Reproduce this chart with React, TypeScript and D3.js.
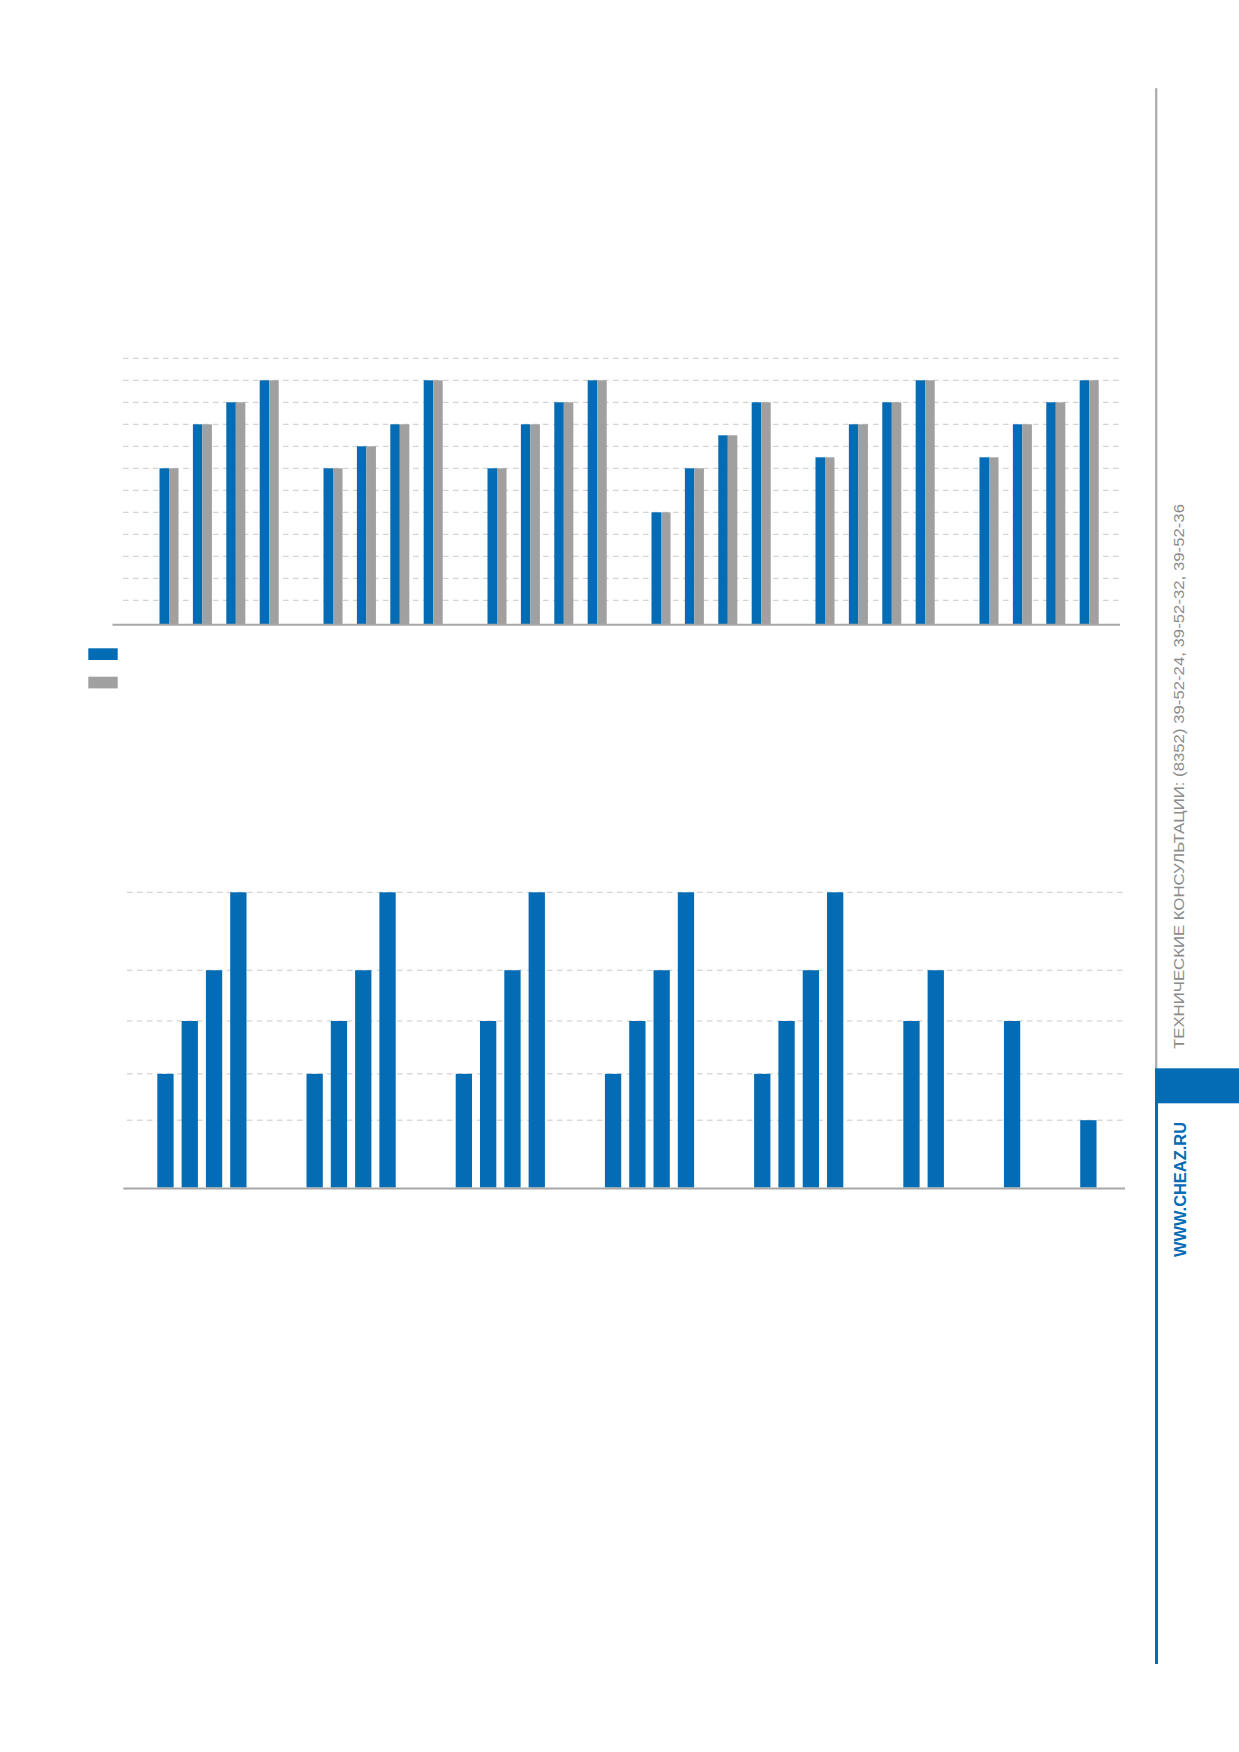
import React from "react";
import * as d3 from "d3";

// upper chart: 6 groups x 4 sizes, two series of equal height
const topGroups = ["1", "2", "3", "4", "5", "6"];
const topSizes = ["a", "b", "c", "d"];
const topSeries = ["blue", "gray"];
const topBlue = [
  [7, 9, 10, 11],
  [7, 8, 9, 11],
  [7, 9, 10, 11],
  [5, 7, 8.5, 10],
  [7.5, 9, 10, 11],
  [7.5, 9, 10, 11],
];
const topGray = [
  [7, 9, 10, 11],
  [7, 8, 9, 11],
  [7, 9, 10, 11],
  [5, 7, 8.5, 10],
  [7.5, 9, 10, 11],
  [7.5, 9, 10, 11],
];
const topTicks = [1, 2, 3, 4, 5, 6, 7, 8, 9, 10, 11, 12];

// lower chart: groups with a varying number of bars
const bottomGroups = ["1", "2", "3", "4", "5", "6", "7", "8"];
const bottomValues = [
  [38.5, 56.4, 73.6, 100],
  [38.5, 56.4, 73.6, 100],
  [38.5, 56.4, 73.6, 100],
  [38.5, 56.4, 73.6, 100],
  [38.5, 56.4, 73.6, 100],
  [56.4, 73.6],
  [56.4],
  [22.8],
];
const bottomTicks = [22.8, 38.5, 56.4, 73.6, 100];

const phoneText = "ТЕХНИЧЕСКИЕ КОНСУЛЬТАЦИИ: (8352) 39-52-24, 39-52-32, 39-52-36";
const siteText = "WWW.CHEAZ.RU";

const BLUE = "#046cb4";
const GRAY = "#a0a0a0";
const GRID = "#c9c9c9";
const AXIS = "#a8a8a8";

const App: React.FC = () => {
  const width = 1239;
  const height = 1752;

  // ---- top chart scales
  const y1 = d3.scaleLinear().domain([0, 12]).range([622.3, 358.3]);
  const x0 = d3.scaleBand<string>()
    .domain(topGroups)
    .range([159.5, 159.5 + 164 * 6 - 44.8])
    .paddingInner(0.273);
  const x1 = d3.scaleBand<string>()
    .domain(topSizes)
    .range([0, x0.bandwidth()])
    .paddingInner(0.43);
  const x2 = d3.scaleBand<string>()
    .domain(topSeries)
    .range([0, x1.bandwidth()]);
  const topBase = y1(0) + 2;
  const topData = [topBlue, topGray];

  // ---- bottom chart scales
  const y2 = d3.scaleLinear().domain([0, 100]).range([1187.5, 892.3]);
  const slot = d3.scaleLinear().domain([0, 1]).range([157.3, 181.6]);
  const gapSlots = 2.14;
  const barW = 16.3;
  const bottomBars: { x: number; v: number; key: string }[] = [];
  let k = 0;
  bottomValues.forEach((vals, g) => {
    vals.forEach((v, i) => {
      bottomBars.push({ x: slot(k + g * gapSlots), v, key: `${bottomGroups[g]}-${i}` });
      k++;
    });
  });
  const bottomBase = y2(0);

  return (
    <svg
      width={width}
      height={height}
      viewBox={`0 0 ${width} ${height}`}
      style={{ position: "absolute", left: 0, top: 0, background: "#fff" }}
    >
      {/* top chart grid */}
      <g>
        {topTicks.map((t) => (
          <line
            key={t}
            x1={123}
            x2={1120}
            y1={y1(t)}
            y2={y1(t)}
            stroke={GRID}
            strokeWidth={1}
            strokeDasharray="5.5,4.5"
          />
        ))}
      </g>
      <g>
        {topGroups.map((g, gi) => (
          <g key={g} transform={`translate(${x0(g)},0)`}>
            {topSizes.map((s, si) =>
              topSeries.map((ser, ri) => {
                const v = topData[ri][gi][si];
                return (
                  <rect
                    key={s + ser}
                    x={(x1(s) ?? 0) + (x2(ser) ?? 0)}
                    y={y1(v)}
                    width={x2.bandwidth()}
                    height={topBase - y1(v)}
                    fill={ri === 0 ? BLUE : GRAY}
                  />
                );
              })
            )}
          </g>
        ))}
      </g>
      <line x1={112.5} x2={1120} y1={topBase + 0.5} y2={topBase + 0.5} stroke={AXIS} strokeWidth={2} />

      {/* legend */}
      <rect x={88.3} y={648.3} width={29.4} height={11.7} fill={BLUE} />
      <rect x={88.3} y={676.7} width={29.4} height={11.7} fill={GRAY} />

      {/* bottom chart grid */}
      <g>
        {bottomTicks.map((t) => (
          <line
            key={t}
            x1={127}
            x2={1125}
            y1={y2(t)}
            y2={y2(t)}
            stroke={GRID}
            strokeWidth={1}
            strokeDasharray="5.5,4.5"
          />
        ))}
      </g>
      <g>
        {bottomBars.map((b) => (
          <rect
            key={b.key}
            x={b.x}
            y={y2(b.v)}
            width={barW}
            height={bottomBase - y2(b.v)}
            fill={BLUE}
          />
        ))}
      </g>
      <line x1={123.3} x2={1125} y1={bottomBase + 1} y2={bottomBase + 1} stroke={AXIS} strokeWidth={2} />

      {/* side strip */}
      <line x1={1156.2} x2={1156.2} y1={88.3} y2={1070} stroke="#adadad" strokeWidth={2.3} />
      <line x1={1156.5} x2={1156.5} y1={1100} y2={1664} stroke={BLUE} strokeWidth={3} />
      <rect x={1155} y={1068.3} width={84} height={35} fill={BLUE} />
      <text
        transform="translate(1184.2,1049) rotate(-90)"
        fontFamily="Liberation Sans, Arial, sans-serif"
        fontSize={14.5}
        fill="#8c8c8c"
        textLength={545}
        lengthAdjust="spacingAndGlyphs"
      >
        {phoneText}
      </text>
      <text
        transform="translate(1185.7,1257) rotate(-90)"
        fontFamily="Liberation Sans, Arial, sans-serif"
        fontSize={16}
        fontWeight="bold"
        fill={BLUE}
        textLength={135}
        lengthAdjust="spacingAndGlyphs"
      >
        {siteText}
      </text>
    </svg>
  );
};

export default App;
